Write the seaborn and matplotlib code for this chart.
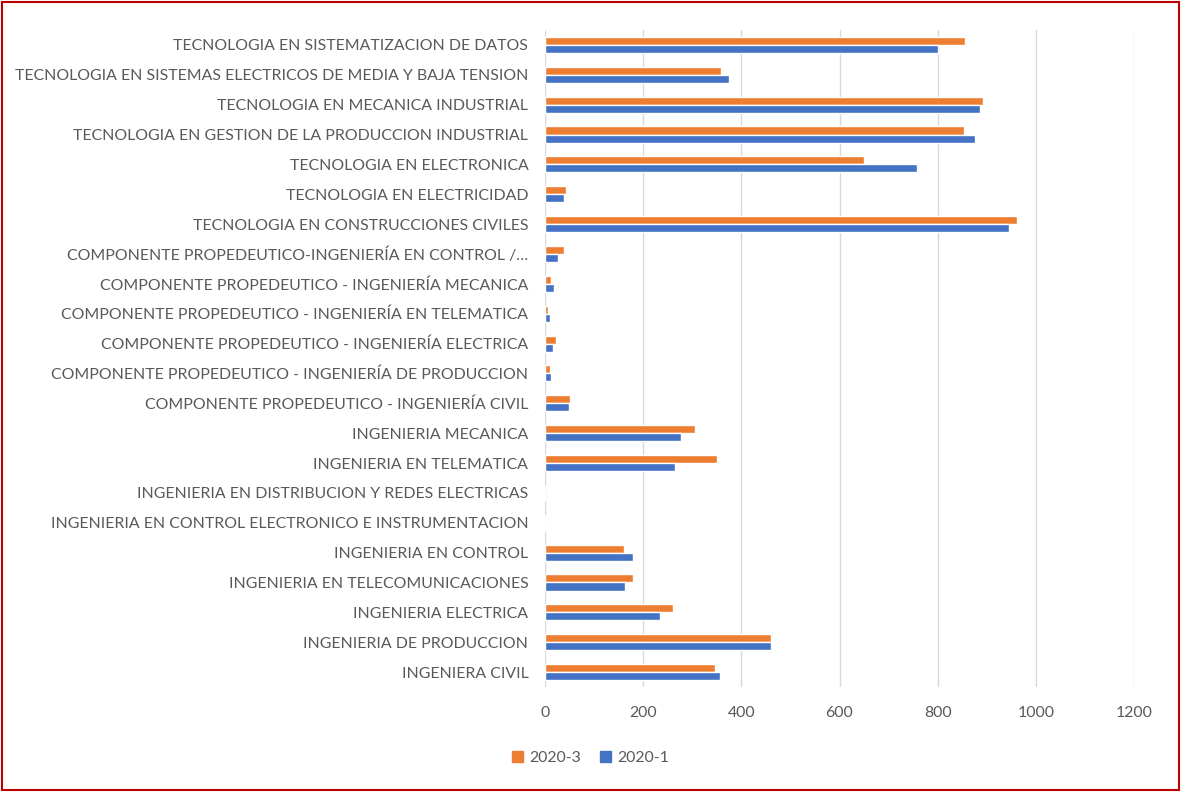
import numpy as np
import pandas as pd
import matplotlib
matplotlib.use("Agg")
import matplotlib.pyplot as plt
import seaborn as sns
from matplotlib.patches import Rectangle

# Programas (de arriba hacia abajo, como en la figura)
programas = [
    "TECNOLOGIA EN SISTEMATIZACION DE DATOS",
    "TECNOLOGIA EN SISTEMAS ELECTRICOS DE MEDIA Y BAJA TENSION",
    "TECNOLOGIA EN MECANICA INDUSTRIAL",
    "TECNOLOGIA EN GESTION DE LA PRODUCCION INDUSTRIAL",
    "TECNOLOGIA EN ELECTRONICA",
    "TECNOLOGIA EN ELECTRICIDAD",
    "TECNOLOGIA EN CONSTRUCCIONES CIVILES",
    "COMPONENTE PROPEDEUTICO-INGENIERÍA EN CONTROL /…",
    "COMPONENTE PROPEDEUTICO - INGENIERÍA MECANICA",
    "COMPONENTE PROPEDEUTICO - INGENIERÍA EN TELEMATICA",
    "COMPONENTE PROPEDEUTICO - INGENIERÍA ELECTRICA",
    "COMPONENTE PROPEDEUTICO - INGENIERÍA DE PRODUCCION",
    "COMPONENTE PROPEDEUTICO - INGENIERÍA CIVIL",
    "INGENIERIA MECANICA",
    "INGENIERIA EN TELEMATICA",
    "INGENIERIA EN DISTRIBUCION Y REDES ELECTRICAS",
    "INGENIERIA EN CONTROL ELECTRONICO E INSTRUMENTACION",
    "INGENIERIA EN CONTROL",
    "INGENIERIA EN TELECOMUNICACIONES",
    "INGENIERIA ELECTRICA",
    "INGENIERIA DE PRODUCCION",
    "INGENIERA CIVIL",
]

periodo_2020_3 = [856, 359, 892, 853, 649, 42, 961, 38, 13, 7, 23, 10, 51,
                  306, 350, 0, 2, 160, 179, 261, 461, 347]
periodo_2020_1 = [800, 374, 887, 876, 758, 39, 946, 26, 19, 10, 17, 13, 49,
                  278, 264, 0, 1, 180, 162, 234, 461, 356]

periodos = ["2020-3", "2020-1"]
colores = {"2020-3": "#ED7D31", "2020-1": "#4472C4"}

df = pd.DataFrame({
    "programa": programas * 2,
    "periodo": ["2020-3"] * len(programas) + ["2020-1"] * len(programas),
    "valor": periodo_2020_3 + periodo_2020_1,
})

sns.set_theme(style="white")
plt.rcParams["font.family"] = ["Lato", "DejaVu Sans"]

W, H = 1181, 792
fig = plt.figure(figsize=(W / 100, H / 100), dpi=100)
ax = fig.add_axes([545 / W, 1 - 687 / H, (1134 - 545) / W, (687 - 30) / H])

sns.barplot(
    data=df, y="programa", x="valor", hue="periodo",
    order=programas, hue_order=periodos, palette=colores,
    orient="h", width=0.54, saturation=1, ax=ax, legend=False,
)

ax.set_xlim(0, 1200)
ax.set_xticks(np.arange(0, 1201, 200))
ax.set_xlabel("")
ax.set_ylabel("")
ax.grid(axis="x", color="#d9d9d9", linewidth=1.0)
ax.set_axisbelow(True)
for s in ax.spines.values():
    s.set_visible(False)
ax.tick_params(axis="both", length=0, labelcolor="#595959", labelsize=11.4)
ax.tick_params(axis="x", pad=14)
ax.tick_params(axis="y", pad=12)

handles = [Rectangle((0, 0), 1, 1, color=colores[p]) for p in periodos]
fig.legend(handles, periodos, loc="center", bbox_to_anchor=(0.5, 1 - 758 / H),
           ncol=2, frameon=False, fontsize=11.4, labelcolor="#595959",
           handlelength=0.7, handleheight=0.7, columnspacing=1.2, handletextpad=0.4)

# Marco rojo alrededor del gráfico
fig.patches.append(Rectangle((2 / W, 2 / H), 1 - 4 / W, 1 - 4 / H,
                             transform=fig.transFigure, fill=False,
                             edgecolor="#C00000", linewidth=1.5))

fig.savefig("out.png", dpi=100)
